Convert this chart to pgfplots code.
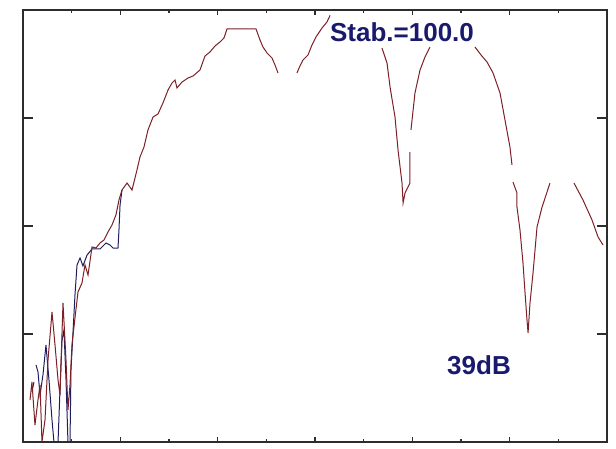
\documentclass[border=0pt]{standalone}
\usepackage{fontspec}
\setmainfont{Liberation Sans}
\usepackage{pgfplots}
\pgfplotsset{compat=1.18}
\definecolor{curvered}{RGB}{125,32,38}
\definecolor{curveblue}{RGB}{30,30,95}
\definecolor{txtblue}{RGB}{25,25,110}
\definecolor{frame}{RGB}{45,45,45}
\begin{document}
\begin{tikzpicture}
\begin{axis}[
  width=584pt, height=432pt, scale only axis,
  xmin=0, xmax=600, ymin=0, ymax=40,
  xtick={100,200,300,400,500},
  minor xtick={50,150,250,350,450,550},
  ytick={10,20,30},
  xticklabels={}, yticklabels={},
  tick align=inside,
  axis line style={frame, line width=1.5pt},
  xtick style={frame, line width=1.2pt, /pgfplots/major tick length=5pt, /pgfplots/minor tick length=3pt},
  ytick style={frame, line width=1.2pt, /pgfplots/major tick length=10pt},
  unbounded coords=jump,
  clip=true,
]
% blue trace
\addplot[curveblue, line width=1pt] coordinates {
(9.2,4.63) (11.3,5.56) (nan,nan)
(13.4,7.13) (15.4,6.48) (17.5,4.35) (20.5,6.20) (23.6,8.98) (26.7,5.74) (29.8,2.04)
(31.8,0) (36.0,0) (38.0,4.81) (40.1,9.44) (42.1,10.37) (44.2,5.74) (46.2,0) (48.3,0)
(49.3,6.67) (51.4,10.19) (53.4,13.61) (55.5,16.39) (58.6,17.04) (61.6,16.30) (65.8,17.31)
(70.9,17.87) (79.1,17.87) (85.3,18.43) (89.4,18.24) (92.5,17.96) (97.6,17.96) (98.6,19.63)
(99.7,21.94) (101.7,23.33)
};
% red trace
\addplot[curvered, line width=1pt] coordinates {
(7.2,3.89) (9.2,5.56) (12.3,1.57) (15.4,3.89) (17.5,5.28) (19.5,0) (22.6,2.04) (25.7,7.59)
(29.8,12.04) (32.9,8.98) (36.0,5.74) (38.0,4.35) (41.1,12.87) (44.2,7.59) (46.2,2.96)
(48.3,5.28) (50.3,8.98) (53.4,11.48) (56.5,13.89) (60.6,14.72) (63.7,16.39) (66.8,15.46)
(70.9,18.06) (75.0,17.96) (79.1,18.43) (83.2,18.7) (87.3,19.44) (91.4,20.09) (95.5,21.02)
(98.6,22.41) (101.7,23.33) (106.9,23.98) (112.0,23.33) (117.1,25.19) (120.2,26.39)
(124.3,27.31) (128.4,28.89) (133.6,30.09) (138.7,30.37) (143.8,31.39) (149.0,32.59)
(153.1,33.24) (156.2,33.52) (158.2,32.78) (163.4,33.33) (169.5,33.70) (174.7,33.89)
(181.8,34.44) (187.0,35.74) (192.1,36.11) (197.3,36.67) (202.4,37.04) (206.5,37.41)
(209.6,38.24) (239.4,38.24) (243.5,37.22) (246.6,36.57) (250.7,36.02) (255.8,35.56)
(258.9,34.91) (262.0,34.17) (nan,nan)
(281.5,34.17) (284.5,34.81) (287.7,35.37) (292.8,35.83) (296.9,36.76) (301.0,37.5)
(307.2,38.33) (312.3,38.89) (315.5,39.5) (nan,nan)
(368.8,36.48) (374.0,35.09) (377.1,32.87) (382.2,30.09) (385.3,27.04)
(389.4,23.98) (390.5,22.13) (392.5,23.06) (397.6,23.98) (397.6,26.85) (nan,nan)
(398.6,28.89) (402.7,32.31) (407.9,34.44) (413.0,35.65) (418.2,36.57) (nan,nan)
(464.4,36.57) (470.6,35.83) (476.7,35.19)
(482.9,34.17) (490.1,32.31) (495.2,29.81) (500.3,27.31) (502.4,25.65) (nan,nan)
(503.4,24.07) (507.5,23.06) (507.5,21.76) (510.6,19.63) (513.7,16.57) (515.8,13.80)
(517.8,11.30) (518.9,10.09) (520.9,12.87) (524.0,15.65) (528.1,19.91) (533.3,21.76)
(538.4,23.15) (541.4,23.98) (nan,nan)
(566.1,23.98) (575.3,22.41) (584.6,20.56) (590.8,18.98) (595.9,18.24)
};
\node[fill=white, inner sep=1pt, text=txtblue, font=\fontsize{26}{26}\selectfont\bfseries] at (axis cs:389.4,37.96) {Stab.=100.0};
\node[text=txtblue, font=\fontsize{26}{26}\selectfont\bfseries] at (axis cs:468.5,7.13) {39dB};
\end{axis}
\path (current axis.south west) ++(-23pt,-3pt);
\path (current axis.north east) ++(9pt,10pt);
\end{tikzpicture}
\end{document}
